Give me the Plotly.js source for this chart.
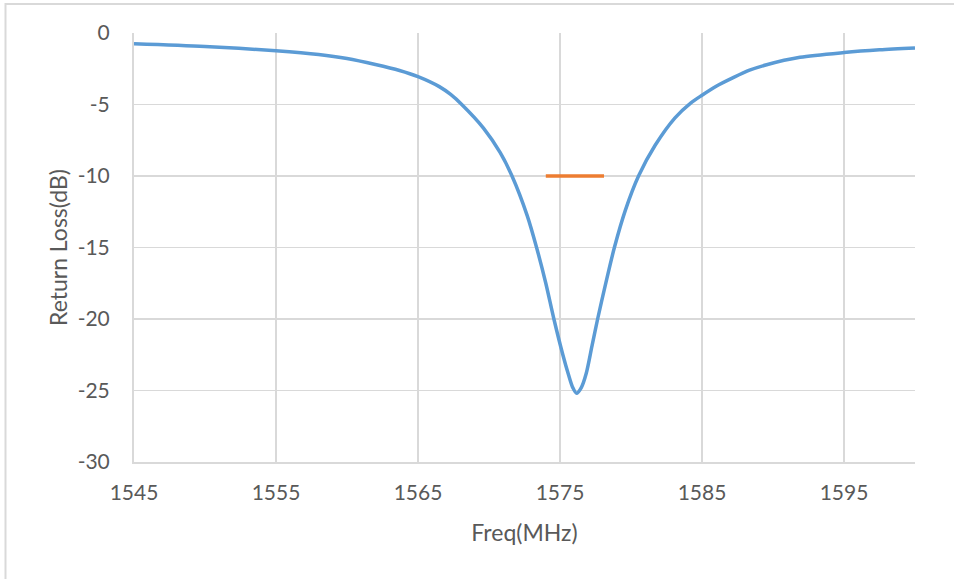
<!DOCTYPE html>
<html>
<head>
<meta charset="utf-8">
<script src="https://cdn.plot.ly/plotly-3.0.1.min.js"></script>
<style>
html,body{margin:0;padding:0;background:#fff;}
#chart{width:954px;height:579px;}
</style>
</head>
<body>
<div id="chart"></div>
<script>
// Return loss curve (MHz, dB)
var freq = [1545, 1550, 1555, 1558, 1560, 1562, 1563.7, 1565, 1566.5, 1567.3, 1568.08, 1569.61, 1570.79, 1571.62, 1572.69, 1573.35, 1574.0, 1574.57, 1575.2, 1575.6, 1575.9, 1576.17, 1576.5, 1576.85, 1577.25, 1577.65, 1578.2, 1578.83, 1579.6, 1580.53, 1581.7, 1583.1, 1584.2, 1585, 1586, 1587.2, 1588.3, 1589.55, 1591.9, 1595, 1597.5, 1600];
var rl   = [-0.75, -0.94, -1.24, -1.5, -1.78, -2.2, -2.62, -3.05, -3.75, -4.3, -5.0, -6.65, -8.37, -10.0, -12.77, -15.0, -17.5, -20.0, -22.5, -23.9, -24.8, -25.2, -24.8, -23.8, -21.9, -20.0, -17.6, -15.0, -12.4, -10.0, -7.85, -5.93, -4.9, -4.35, -3.72, -3.12, -2.62, -2.22, -1.70, -1.37, -1.18, -1.05];
// -10 dB reference band
var bandFreq = [1574, 1578.1];
var bandLevel = [-10, -10];
var xTicks = [1545, 1555, 1565, 1575, 1585, 1595];
var yTicks = [-30, -25, -20, -15, -10, -5, 0];

var W = 954, H = 579, L = 134, T = 33, R = 39, B = 116.5;
var pw = W - L - R, ph = H - T - B;
function px(x){ return (x - L) / pw; }
function py(y){ return (H - B - y) / ph; }

var traces = [
  {x: freq, y: rl, mode: 'lines', type: 'scatter',
   line: {color: '#5B9BD5', width: 3.5, shape: 'spline', smoothing: 0.8}, hoverinfo: 'skip'},
  {x: bandFreq, y: bandLevel, mode: 'lines', type: 'scatter',
   line: {color: '#ED7D31', width: 3.5}, hoverinfo: 'skip'}
];

var tickFont = {family: 'Lato, "Open Sans", sans-serif', size: 21, color: '#595959'};
var titleFont = {family: 'Lato, "Open Sans", sans-serif', size: 23, color: '#595959'};

var layout = {
  width: W, height: H,
  margin: {l: L, r: R, t: T, b: B, pad: 0},
  paper_bgcolor: '#ffffff', plot_bgcolor: '#ffffff',
  showlegend: false,
  font: tickFont,
  xaxis: {
    range: [1545, 1600], tickvals: xTicks, ticktext: xTicks.map(String),
    showgrid: true, gridcolor: '#d9d9d9', gridwidth: 1.5,
    zeroline: false, showline: true, linecolor: '#d9d9d9', linewidth: 2,
    ticks: 'outside', ticklen: 11, tickcolor: 'rgba(0,0,0,0)',
    tickfont: tickFont,
    title: {text: 'Freq(MHz)', font: titleFont, standoff: 22}
  },
  yaxis: {
    range: [-30, 0], tickvals: yTicks, ticktext: yTicks.map(String),
    showgrid: true, gridcolor: '#d9d9d9', gridwidth: 1.5,
    zeroline: false, showline: true, linecolor: '#d9d9d9', linewidth: 2,
    ticks: 'outside', ticklen: 18, tickcolor: 'rgba(0,0,0,0)',
    tickfont: tickFont,
    title: {text: 'Return Loss(dB)', font: titleFont, standoff: 4}
  },
  shapes: [
    {type: 'path', xref: 'paper', yref: 'paper',
     path: 'M ' + px(5.5) + ' ' + py(H + 5) + ' L ' + px(5.5) + ' ' + py(4) + ' L ' + px(W + 5) + ' ' + py(4),
     line: {color: '#d9d9d9', width: 2}, layer: 'above'}
  ]
};

Plotly.newPlot('chart', traces, layout, {displayModeBar: false, staticPlot: true});
</script>
</body>
</html>
